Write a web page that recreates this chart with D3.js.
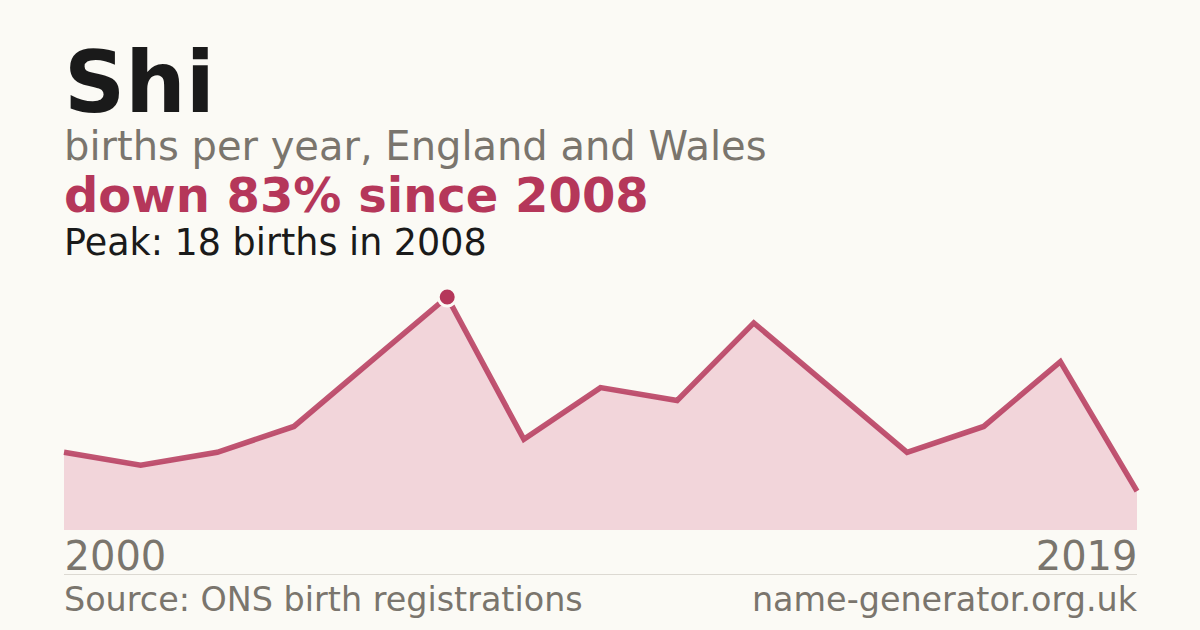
<!DOCTYPE html>
<html>
<head>
<meta charset="utf-8">
<script src="https://cdn.jsdelivr.net/npm/d3@7"></script>
<style>
  html, body { margin: 0; padding: 0; background: #fbfaf5; }
  svg { display: block; font-family: "DejaVu Sans", sans-serif; }
</style>
</head>
<body>
<div class="chart"></div>
<script>
// births of the name per year (years with suppressed counts are left out)
var years = [2000, 2001, 2002, 2004, 2006, 2008, 2009, 2010, 2011, 2013, 2014, 2015, 2016, 2018, 2019];
var births = [6, 5, 6, 8, 13, 18, 7, 11, 10, 16, 11, 6, 8, 13, 3];
var tickYears = [2000, 2019];

var width = 1200;
var height = 630;
var left = 64;
var right = 1137;
var accent = "#b5375a";
var grey = "#7a756d";

var svg = d3
  .select(".chart")
  .append("svg")
  .attr("width", width)
  .attr("height", height)
  .style("background", "#fbfaf5");

var xScale = d3.scalePoint().domain(years).range([left, right]);
var yScale = d3.scaleLinear().domain([0, d3.max(births)]).range([530, 297]);

var peakIndex = births.indexOf(d3.max(births));
var peakYear = years[peakIndex];
var last = births[births.length - 1];
var drop = Math.round((1 - last / births[peakIndex]) * 100);

// headings
svg.append("text")
  .attr("x", left).attr("y", 112)
  .attr("font-size", 85).attr("font-weight", "bold")
  .attr("fill", "#1a1a1a")
  .text("Shi");

svg.append("text")
  .attr("x", left).attr("y", 160)
  .attr("font-size", 40)
  .attr("fill", grey)
  .text("births per year, England and Wales");

svg.append("text")
  .attr("x", left).attr("y", 212)
  .attr("font-size", 48).attr("font-weight", "bold")
  .attr("fill", accent)
  .text("down " + drop + "% since " + peakYear);

svg.append("text")
  .attr("x", left).attr("y", 255)
  .attr("font-size", 36.5)
  .attr("fill", "#1a1a1a")
  .text("Peak: " + births[peakIndex] + " births in " + peakYear);

// area + line
var area = d3.area()
  .x(function(d, i) { return xScale(years[i]); })
  .y0(yScale(0))
  .y1(function(d) { return yScale(d); });

var line = d3.line()
  .x(function(d, i) { return xScale(years[i]); })
  .y(function(d) { return yScale(d); });

svg.append("path")
  .datum(births)
  .attr("d", area)
  .attr("fill", "#f2d5da");

svg.append("path")
  .datum(births)
  .attr("d", line)
  .attr("fill", "none")
  .attr("stroke", accent)
  .attr("stroke-opacity", 0.85)
  .attr("stroke-width", 5.5)
  .attr("stroke-linejoin", "miter");

svg.append("circle")
  .attr("cx", xScale(peakYear))
  .attr("cy", yScale(births[peakIndex]))
  .attr("r", 9)
  .attr("fill", accent)
  .attr("stroke", "#fbfaf5")
  .attr("stroke-width", 3);

// year labels
var axis = svg.append("g")
  .attr("transform", "translate(0," + 530 + ")")
  .call(d3.axisBottom(xScale).tickValues(tickYears).tickSize(0).tickPadding(0));

axis.select(".domain").remove();
axis.selectAll("text")
  .attr("y", 40)
  .attr("dy", null)
  .attr("font-size", 40)
  .attr("font-family", "DejaVu Sans, sans-serif")
  .attr("fill", grey)
  .attr("text-anchor", function(d, i) { return i === 0 ? "start" : "end"; });

// footer
svg.append("line")
  .attr("x1", left).attr("x2", right)
  .attr("y1", 574.5).attr("y2", 574.5)
  .attr("stroke", "#dcd9d2")
  .attr("stroke-width", 1);

svg.append("text")
  .attr("x", left).attr("y", 611)
  .attr("font-size", 33.4)
  .attr("fill", grey)
  .text("Source: ONS birth registrations");

svg.append("text")
  .attr("x", right).attr("y", 611)
  .attr("font-size", 33.4)
  .attr("text-anchor", "end")
  .attr("fill", grey)
  .text("name-generator.org.uk");
</script>
</body>
</html>
